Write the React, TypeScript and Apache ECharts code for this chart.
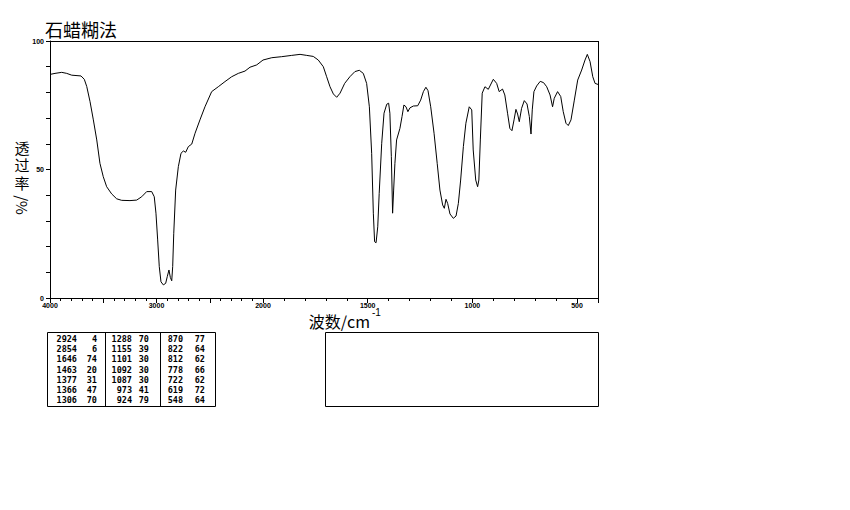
import React, { useEffect, useRef } from "react";
import * as echarts from "echarts";

// IR spectrum (wavenumber cm-1, transmittance %)
const wavenumbers = [
  4000, 3953, 3890, 3843, 3796, 3709, 3678, 3655, 3624, 3593, 3561, 3531, 3500, 3468, 3421, 3374,
  3327, 3249, 3186, 3139, 3092, 3045, 3021, 3005, 2989, 2974, 2958, 2936, 2914, 2899, 2883, 2870,
  2857, 2848, 2838, 2820, 2795, 2770, 2748, 2726, 2701, 2669, 2638, 2592, 2545, 2482, 2420, 2357,
  2294, 2232, 2169, 2122, 2059, 2000, 1958, 1911, 1863, 1823, 1791, 1760, 1736, 1712, 1696, 1680,
  1664, 1648, 1632, 1610, 1585, 1561, 1540, 1521, 1505, 1492, 1481, 1473, 1467, 1460, 1452, 1445,
  1433, 1422, 1409, 1400, 1394, 1387, 1381, 1376, 1370, 1362, 1346, 1336, 1327, 1317, 1308, 1298,
  1282, 1261, 1247, 1234, 1222, 1212, 1199, 1183, 1168, 1155, 1142, 1134, 1126, 1118, 1107, 1091,
  1078, 1067, 1056, 1043, 1031, 1015, 1003, 996, 984, 975, 969, 962, 953, 940, 924, 900,
  884, 872, 856, 845, 832, 821, 811, 801, 792, 784, 776, 765, 752, 739, 728, 720,
  714, 706, 693, 676, 660, 645, 629, 617, 609, 593, 578, 566, 553, 542, 529, 513,
  497, 478, 462, 451, 438, 425, 414, 400,
];
const transmittance = [
  87.0, 87.4, 87.8, 87.4, 86.7, 86.4, 85.1, 82.3, 76.4, 69.3, 61.5, 52.4, 47.2, 43.3, 40.5, 38.6,
  38.0, 37.9, 38.1, 39.4, 41.4, 41.4, 39.4, 33.0, 22.6, 12.2, 6.3, 5.1, 5.7, 8.3, 10.9, 8.0,
  6.7, 12.2, 25.2, 42.0, 51.1, 56.3, 57.2, 56.7, 58.9, 59.9, 64.1, 69.3, 74.4, 80.3, 82.2, 84.2,
  86.1, 87.4, 88.3, 89.8, 90.7, 92.6, 93.5, 93.9, 94.4, 94.8, 94.4, 94.0, 92.6, 90.0, 86.1, 82.2,
  79.4, 78.1, 79.7, 83.5, 86.1, 88.1, 88.6, 87.4, 83.5, 74.4, 56.3, 33.0, 21.9, 21.5, 27.7, 40.7,
  60.2, 71.9, 75.4, 75.8, 71.9, 55.0, 33.0, 42.0, 52.4, 61.5, 66.0, 70.6, 75.1, 74.4, 72.5, 74.0,
  74.7, 74.8, 77.0, 80.3, 82.0, 80.7, 74.4, 64.1, 52.4, 42.0, 36.2, 34.9, 38.4, 36.8, 32.7, 31.0,
  31.9, 36.8, 45.9, 58.9, 68.0, 74.4, 73.2, 57.6, 45.9, 43.3, 45.9, 61.5, 79.7, 82.2, 81.2, 85.1,
  83.5, 80.3, 81.3, 79.0, 71.9, 66.0, 65.1, 69.3, 73.4, 71.6, 68.6, 73.8, 76.8, 75.5, 70.6, 63.8,
  73.2, 80.3, 82.5, 84.3, 83.8, 82.2, 79.0, 74.4, 77.7, 80.3, 78.4, 72.5, 68.0, 67.1, 69.3, 77.0,
  84.8, 88.7, 92.6, 94.8, 92.0, 86.1, 83.5, 83.1,
];

const xTickLabels = [4000, 3000, 2000, 1500, 1000, 500];
const yTickLabels = [0, 50, 100];

// Peak table (three column pairs)
const tableCol1Wn = [2924, 2854, 1646, 1463, 1377, 1366, 1306];
const tableCol1T = [4, 6, 74, 20, 31, 47, 70];
const tableCol2Wn = [1288, 1155, 1101, 1092, 1087, 973, 924];
const tableCol2T = [70, 39, 30, 30, 30, 41, 79];
const tableCol3Wn = [870, 822, 812, 778, 722, 619, 548];
const tableCol3T = [77, 64, 62, 66, 62, 72, 64];

const titleText = "石蜡糊法";
const xTitleText = "波数/cm";
const xTitleSup = "-1";
const yTitleCjk = ["透", "过", "率"];
const yTitleTail = "/%";

const CJK = '"Noto Sans CJK SC", sans-serif';
const CJK_TIGHT = '"Liberation Sans", "Noto Sans CJK SC", sans-serif';

export default function App() {
  const ref = useRef<HTMLDivElement>(null);

  useEffect(() => {
    if (!ref.current) return;
    const chart = echarts.init(ref.current, undefined, { renderer: "svg" });

    const pairs = wavenumbers.map((w, i) => [w, transmittance[i]]);
    const leftData = pairs.filter((p) => p[0] >= 2000);
    const rightData = pairs.filter((p) => p[0] <= 2000);

    const labelStyle = {
      fontSize: 7,
      color: "#000",
      fontFamily: "Liberation Sans",
      fontWeight: "bold" as const,
    };
    const black = { color: "#000", width: 1 };

    const tableFont = 'bold 8.5px "DejaVu Sans Mono"';
    const tableCols = [
      { wn: tableCol1Wn, t: tableCol1T, wnRight: 77, tRight: 97 },
      { wn: tableCol2Wn, t: tableCol2T, wnRight: 132, tRight: 149 },
      { wn: tableCol3Wn, t: tableCol3T, wnRight: 183, tRight: 205 },
    ];
    const tableTexts: any[] = [];
    tableCols.forEach((col) => {
      col.wn.forEach((w, i) => {
        const y = 339 + i * 10.2;
        [
          { x: col.wnRight, s: String(w) },
          { x: col.tRight, s: String(col.t[i]) },
        ].forEach((c) =>
          tableTexts.push({
            type: "text",
            x: c.x,
            y,
            style: {
              text: c.s,
              fill: "#000",
              font: tableFont,
              lineHeight: 9,
              align: "right",
              textAlign: "right",
              verticalAlign: "middle",
              textVerticalAlign: "middle",
            },
          })
        );
      });
    });

    const option: any = {
      animation: false,
      backgroundColor: "#fff",
      grid: [
        { left: 50, top: 41, width: 213, height: 257 },
        { left: 263, top: 41, width: 335, height: 257 },
      ],
      xAxis: [
        {
          type: "value",
          gridIndex: 0,
          position: "bottom",
          min: 2000,
          max: 4000,
          interval: 500,
          inverse: true,
          axisLine: { show: true, onZero: false, lineStyle: black },
          axisTick: { show: true, length: 5, lineStyle: black },
          minorTick: { show: true, splitNumber: 5, length: 3, lineStyle: black },
          splitLine: { show: false },
          minorSplitLine: { show: false },
          axisLabel: {
            ...labelStyle,
            margin: 4,
            showMinLabel: true,
            showMaxLabel: true,
            formatter: (v: number) => (xTickLabels.includes(v) ? String(v) : ""),
          },
        },
        {
          type: "value",
          gridIndex: 1,
          position: "bottom",
          min: 400,
          max: 2000,
          interval: 100,
          inverse: true,
          axisLine: { show: true, onZero: false, lineStyle: black },
          axisTick: { show: true, length: 3, lineStyle: black },
          splitLine: { show: false },
          axisLabel: {
            ...labelStyle,
            margin: 4,
            formatter: (v: number) => (v !== 2000 && xTickLabels.includes(v) ? String(v) : ""),
          },
        },
        {
          type: "value",
          gridIndex: 1,
          position: "bottom",
          min: 0,
          max: 1600,
          interval: 500,
          axisLine: { show: false, onZero: false },
          axisTick: { show: true, length: 5, lineStyle: black },
          splitLine: { show: false },
          axisLabel: { show: false },
        },
      ],
      yAxis: [
        {
          type: "value",
          gridIndex: 0,
          min: 0,
          max: 100,
          interval: 10,
          axisLine: { show: true, onZero: false, lineStyle: black },
          axisTick: { show: true, length: 4, lineStyle: black },
          splitLine: { show: false },
          axisLabel: {
            ...labelStyle,
            margin: 6,
            formatter: (v: number) => (yTickLabels.includes(v) ? String(v) : ""),
          },
        },
        { type: "value", gridIndex: 1, min: 0, max: 100, show: false },
      ],
      series: [
        {
          type: "line",
          xAxisIndex: 0,
          yAxisIndex: 0,
          data: leftData,
          showSymbol: false,
          symbol: "none",
          lineStyle: { color: "#000", width: 1 },
          silent: true,
        },
        {
          type: "line",
          xAxisIndex: 1,
          yAxisIndex: 1,
          data: rightData,
          showSymbol: false,
          symbol: "none",
          lineStyle: { color: "#000", width: 1 },
          silent: true,
        },
      ],
      graphic: [
        // plot frame top and right
        {
          type: "line",
          shape: { x1: 50, y1: 41.5, x2: 598.5, y2: 41.5 },
          style: { stroke: "#000", lineWidth: 1 },
        },
        {
          type: "line",
          shape: { x1: 598.5, y1: 41, x2: 598.5, y2: 298.5 },
          style: { stroke: "#000", lineWidth: 1 },
        },
        // title
        {
          type: "text",
          x: 45,
          y: 19,
          style: { text: titleText, fill: "#000", font: `18px ${CJK}`, lineHeight: 19 },
        },
        // x axis title
        {
          type: "text",
          x: 370,
          y: 312,
          style: {
            text: xTitleText,
            fill: "#000",
            font: `16px ${CJK}`,
            lineHeight: 17,
            align: "right",
            textAlign: "right",
          },
        },
        {
          type: "text",
          x: 372,
          y: 307,
          style: { text: xTitleSup, fill: "#000", font: '10px "Liberation Sans"', lineHeight: 10 },
        },
        // y axis title (stacked upright CJK, rotated tail)
        ...yTitleCjk.map((ch, i) => ({
          type: "text",
          x: 22,
          y: 148 + i * 17.5,
          style: {
            text: ch,
            fill: "#000",
            font: `15px ${CJK_TIGHT}`,
            lineHeight: 15,
            align: "center",
            textAlign: "center",
            verticalAlign: "middle",
            textVerticalAlign: "middle",
          },
        })),
        {
          type: "text",
          x: 22,
          y: 205,
          rotation: -Math.PI / 2,
          style: {
            text: yTitleTail,
            fill: "#000",
            font: `15px ${CJK}`,
            lineHeight: 15,
            align: "center",
            textAlign: "center",
            verticalAlign: "middle",
            textVerticalAlign: "middle",
          },
        },
        // peak table box
        {
          type: "rect",
          shape: { x: 47.5, y: 332.5, width: 168, height: 74 },
          style: { fill: "none", stroke: "#000", lineWidth: 1 },
        },
        {
          type: "line",
          shape: { x1: 105.5, y1: 332.5, x2: 105.5, y2: 406.5 },
          style: { stroke: "#000", lineWidth: 1 },
        },
        {
          type: "line",
          shape: { x1: 160.5, y1: 332.5, x2: 160.5, y2: 406.5 },
          style: { stroke: "#000", lineWidth: 1 },
        },
        ...tableTexts,
        // empty comment box
        {
          type: "rect",
          shape: { x: 325.5, y: 332.5, width: 273, height: 74 },
          style: { fill: "none", stroke: "#000", lineWidth: 1 },
        },
      ],
    };

    chart.setOption(option);
    return () => chart.dispose();
  }, []);

  return (
    <div
      ref={ref}
      style={{ position: "absolute", left: 0, top: 0, width: 850, height: 510, background: "#fff" }}
    />
  );
}
